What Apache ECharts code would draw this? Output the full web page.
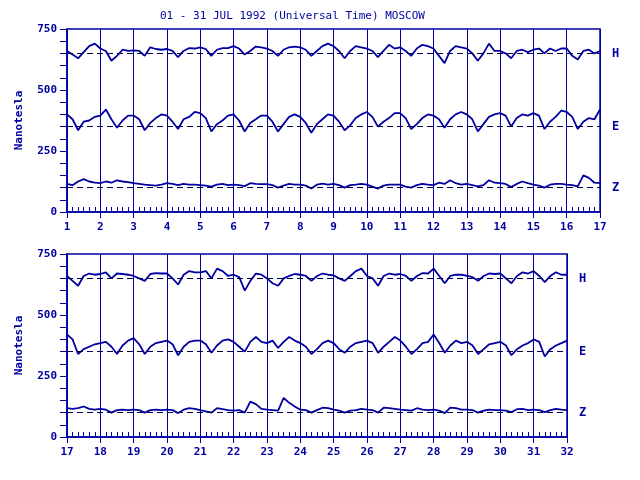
<!DOCTYPE html>
<html><head><meta charset="utf-8">
<script src="https://cdn.jsdelivr.net/npm/echarts@6/dist/echarts.min.js"></script>
<style>html,body{margin:0;padding:0;background:#fff}#c{width:640px;height:480px}</style>
</head><body><div id="c"></div>
<script>
// samples every 4 hours, starting day 1 00:00 UT, ending day 32 00:00
const H = [
660,645,630,655,680,690, 670,660,620,640,665,660, 662,660,640,675,668,665, 668,660,635,660,672,670,
675,668,640,665,672,672, 680,670,645,660,678,675, 670,660,640,665,675,678, 675,665,640,660,680,690,
680,660,630,660,680,675, 670,660,635,660,685,670, 675,660,640,670,685,680, 670,640,610,660,680,675,
670,650,620,650,690,660, 660,650,630,660,665,655, 665,670,650,670,660,670, 670,640,625,660,665,650,
660,640,620,660,670,665, 668,675,650,670,668,665, 660,650,640,668,672,670, 670,650,625,665,680,675,
675,680,650,690,680,660, 665,655,600,640,670,665, 650,630,620,650,660,668, 665,660,640,660,670,665,
662,650,640,660,680,690, 660,650,620,660,670,665, 668,660,640,660,672,670, 690,660,630,660,665,665,
660,655,640,660,670,668, 670,650,630,660,675,670, 680,660,635,660,675,665, 665];
const E = [
400,380,335,370,375,390, 395,420,380,345,375,395, 395,380,335,365,385,400, 395,370,340,380,390,410,
405,385,330,360,375,395, 400,375,330,365,380,395, 395,370,330,360,390,400, 390,365,325,360,380,400,
395,370,335,355,385,400, 410,390,350,370,385,405, 405,385,340,360,385,400, 395,380,345,380,400,410,
400,380,330,360,390,400, 405,395,350,385,400,395, 405,395,340,370,390,415, 410,390,340,370,385,380,
420,400,340,360,370,380, 385,390,370,340,375,395, 405,380,340,370,385,390, 395,380,335,370,390,395,
395,380,345,375,395,400, 390,370,350,390,410,390, 385,395,365,390,410,395, 385,370,340,360,385,395,
385,360,345,370,385,390, 395,385,345,370,390,410, 395,370,340,360,385,390, 420,385,345,375,395,385,
390,375,340,360,380,385, 390,375,335,360,375,385, 400,390,330,360,375,385, 395];
const Z = [
115,110,125,135,125,120, 118,125,120,130,125,122, 118,115,112,110,108,112, 118,115,110,115,112,112,
110,108,104,112,115,110, 112,110,106,118,115,114, 114,110,100,108,115,112, 112,108,96,112,116,112,
115,110,100,110,112,115, 112,104,96,108,112,112, 112,104,100,110,115,112, 110,120,115,130,118,112,
115,110,105,110,130,120, 118,115,102,115,125,118, 112,108,100,112,115,115, 112,110,105,150,140,120,
118,115,118,125,115,112, 115,112,100,110,112,110, 112,110,100,110,112,110, 112,110,98,112,118,115,
110,105,100,118,114,110, 108,110,100,145,135,115, 112,110,108,160,140,125, 112,110,100,110,120,118,
112,108,100,108,110,115, 112,110,100,120,118,115, 112,110,108,118,112,110, 112,108,98,120,118,112,
112,110,100,108,112,110, 110,108,102,114,115,110, 112,110,102,110,115,112, 110];
const baselines = {H:650, E:350, Z:100};
const yTicks = [0,250,500,750];
const C = '#0000a0';
const font = 'DejaVu Sans Mono';

function pts(arr, a, b){ const out=[]; arr.forEach((v,i)=>{const t=1+i/6; if(t>=a-1e-9&&t<=b+1e-9) out.push([t,v]);}); return out; }
const grids=[{left:67,right:40,top:29,height:183,show:true,borderColor:C,borderWidth:1.5},
             {left:67,right:73,top:254,height:183,show:true,borderColor:C,borderWidth:1.5}];
const ranges=[[1,17],[17,32]];
const xAxis=ranges.map((r,i)=>({type:'value',gridIndex:i,min:r[0],max:r[1],interval:1,
  axisLine:{lineStyle:{color:C,width:1.5}},axisTick:{length:6,lineStyle:{color:C}},
  minorTick:{show:true,splitNumber:6,length:-5,lineStyle:{color:C}},
  splitLine:{show:true,lineStyle:{color:C,width:1}},
  axisLabel:{color:C,fontFamily:font,fontWeight:'bold',fontSize:11,margin:10}}));
const yAxis=ranges.map((r,i)=>({type:'value',gridIndex:i,min:0,max:750,interval:250,
  name:'Nanotesla',nameLocation:'middle',nameGap:42,nameTextStyle:{color:C,fontFamily:font,fontWeight:'bold',fontSize:11},
  axisLine:{lineStyle:{color:C,width:1.5}},axisTick:{length:7,lineStyle:{color:C}},
  minorTick:{show:true,splitNumber:5,length:7,lineStyle:{color:C}},
  splitLine:{show:false},
  axisLabel:{color:C,fontFamily:font,fontWeight:'bold',fontSize:11,margin:10,formatter:v=>yTicks.includes(v)?String(v):''}}));
const series=[];
[['H',H],['E',E],['Z',Z]].forEach(([n,arr])=>{
  ranges.forEach((r,i)=>{
    series.push({type:'line',name:n,xAxisIndex:i,yAxisIndex:i,data:pts(arr,r[0],r[1]),showSymbol:false,
      lineStyle:{color:C,width:1.8},silent:true,
      markLine:{symbol:'none',silent:true,lineStyle:{color:'#000050',type:[6,4],width:1},
        label:{show:true,position:'end',formatter:n,color:C,fontFamily:font,fontWeight:'bold',fontSize:12,distance:12},
        data:[{yAxis:baselines[n]}]}});
  });
});
const chart=echarts.init(document.getElementById('c'));
chart.setOption({animation:false,backgroundColor:'#fff',
  title:{text:'01 - 31 JUL 1992 (Universal Time) MOSCOW',left:155,top:6,textStyle:{color:C,fontFamily:font,fontSize:11,fontWeight:'normal'}},
  grid:grids,xAxis,yAxis,series});
</script></body></html>
